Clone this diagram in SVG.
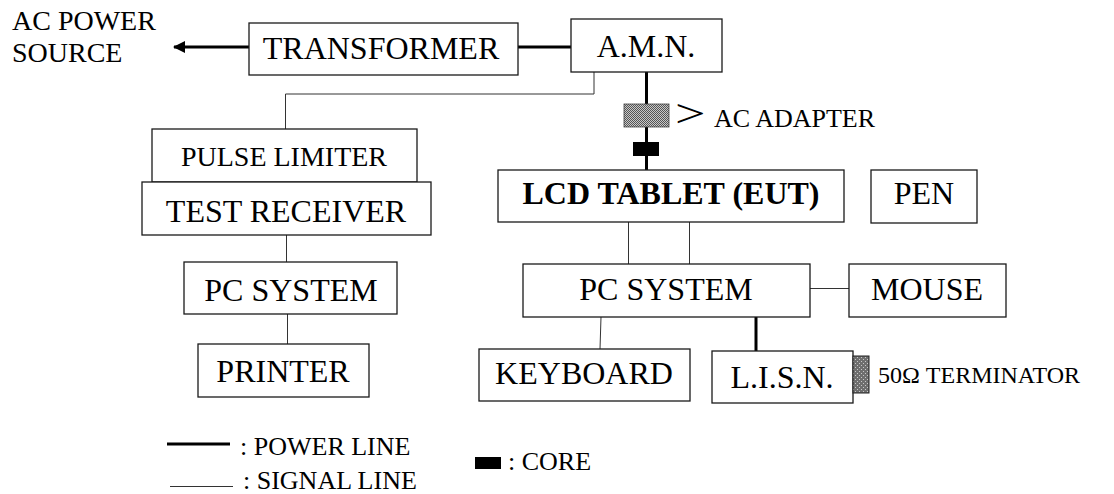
<svg xmlns="http://www.w3.org/2000/svg" width="1114" height="494" viewBox="0 0 1114 494">
<style>
text{font-family:"Liberation Serif","Times New Roman",serif;fill:#000}
.lbl{font-size:32px;text-anchor:middle}
.box{fill:#fff;stroke:#1a1a1a;stroke-width:1.3}
.pw{stroke:#000;stroke-width:3;fill:none}
.sg{stroke:#333;stroke-width:1;fill:none}
.leg{font-size:26px}
</style>
<defs>
<pattern id="dither" width="2" height="2" patternUnits="userSpaceOnUse">
<rect width="2" height="2" fill="#c8c8c8"/>
<rect width="1" height="1" fill="#555"/>
<rect x="1" y="1" width="1" height="1" fill="#555"/>
</pattern>
<pattern id="dots" width="4" height="4" patternUnits="userSpaceOnUse">
<rect width="4" height="4" fill="#6e6e6e"/>
<rect x="1" y="1" width="1" height="1" fill="#c8c8c8"/>
<rect x="3" y="3" width="1" height="1" fill="#c8c8c8"/>
</pattern>
<marker id="arr" markerWidth="12" markerHeight="12" refX="11" refY="6" orient="auto" markerUnits="userSpaceOnUse">
<path d="M0,0 L12,6 L0,12 Z" fill="#000"/>
</marker>
</defs>

<g id="connectors">
<line class="pw" x1="249" y1="47" x2="174" y2="47" marker-end="url(#arr)"/>
<line class="pw" x1="518" y1="47" x2="571" y2="47"/>
<polyline class="sg" points="594,72 594,94 285.5,94 285.5,129"/>
<line class="pw" x1="646.5" y1="72" x2="646.5" y2="170"/>
<line class="sg" x1="286.5" y1="235" x2="286.5" y2="262"/>
<line class="sg" x1="287.5" y1="314" x2="287.5" y2="344"/>
<line class="sg" x1="628.5" y1="222" x2="628.5" y2="264"/>
<line class="sg" x1="689.5" y1="222" x2="689.5" y2="264"/>
<line class="sg" x1="810" y1="288.5" x2="849" y2="288.5"/>
<line class="sg" x1="601" y1="317" x2="600" y2="349"/>
<line class="pw" x1="756" y1="317" x2="756" y2="351"/>
</g>

<g id="ac-power-source">
<text x="12" y="30" style="font-size:28px">AC POWER</text>
<text x="12" y="62" style="font-size:28px">SOURCE</text>
</g>

<g id="transformer">
<rect class="box" x="249" y="23" width="269" height="52"/>
<text class="lbl" x="381" y="59">TRANSFORMER</text>
</g>

<g id="amn">
<rect class="box" x="571" y="19" width="151" height="53"/>
<text class="lbl" x="646" y="57">A.M.N.</text>
</g>

<g id="ac-adapter">
<rect x="624" y="104" width="45" height="23" fill="url(#dither)" stroke="#444" stroke-width="0.8"/>
<text transform="translate(675,127) scale(1,0.74)" x="0" y="0" style="font-size:54px">&gt;</text>
<text x="714" y="127" style="font-size:26px">AC ADAPTER</text>
</g>

<g id="core-adapter">
<rect x="633" y="142" width="26" height="14" fill="#000"/>
</g>

<g id="pulse-limiter">
<rect class="box" x="152" y="129" width="265" height="53"/>
<text class="lbl" x="284" y="166" style="font-size:28px">PULSE LIMITER</text>
</g>

<g id="test-receiver">
<rect class="box" x="142" y="182" width="289" height="53"/>
<text class="lbl" x="286" y="222">TEST RECEIVER</text>
</g>

<g id="pc-system-left">
<rect class="box" x="184" y="262" width="213" height="52"/>
<text class="lbl" x="291" y="301">PC SYSTEM</text>
</g>

<g id="printer">
<rect class="box" x="198" y="344" width="171" height="53"/>
<text class="lbl" x="283" y="382">PRINTER</text>
</g>

<g id="lcd-tablet">
<rect class="box" x="498" y="170" width="346" height="52"/>
<text class="lbl" x="671" y="204" style="font-weight:bold">LCD TABLET (EUT)</text>
</g>

<g id="pen">
<rect class="box" x="871" y="170" width="106" height="53"/>
<text class="lbl" x="924" y="204">PEN</text>
</g>

<g id="pc-system-right">
<rect class="box" x="523" y="264" width="287" height="53"/>
<text class="lbl" x="666" y="300">PC SYSTEM</text>
</g>

<g id="mouse">
<rect class="box" x="849" y="264" width="157" height="53"/>
<text class="lbl" x="927" y="300">MOUSE</text>
</g>

<g id="keyboard">
<rect class="box" x="479" y="349" width="211" height="52"/>
<text class="lbl" x="584" y="384">KEYBOARD</text>
</g>

<g id="lisn">
<rect class="box" x="712" y="351" width="141" height="52"/>
<text class="lbl" x="782" y="388">L.I.S.N.</text>
</g>

<g id="terminator">
<rect x="853" y="356" width="16" height="37" fill="url(#dots)" stroke="#222" stroke-width="1"/>
<text x="878" y="383" style="font-size:24px">50Ω TERMINATOR</text>
</g>

<g id="legend">
<line class="pw" x1="167" y1="444" x2="230" y2="444"/>
<text class="leg" x="240" y="455">: POWER LINE</text>
<line class="sg" x1="170" y1="486.5" x2="233" y2="486.5"/>
<text class="leg" x="243" y="489">: SIGNAL LINE</text>
<rect x="475" y="457" width="26" height="12" fill="#000"/>
<text class="leg" x="508" y="470">: CORE</text>
</g>
</svg>
